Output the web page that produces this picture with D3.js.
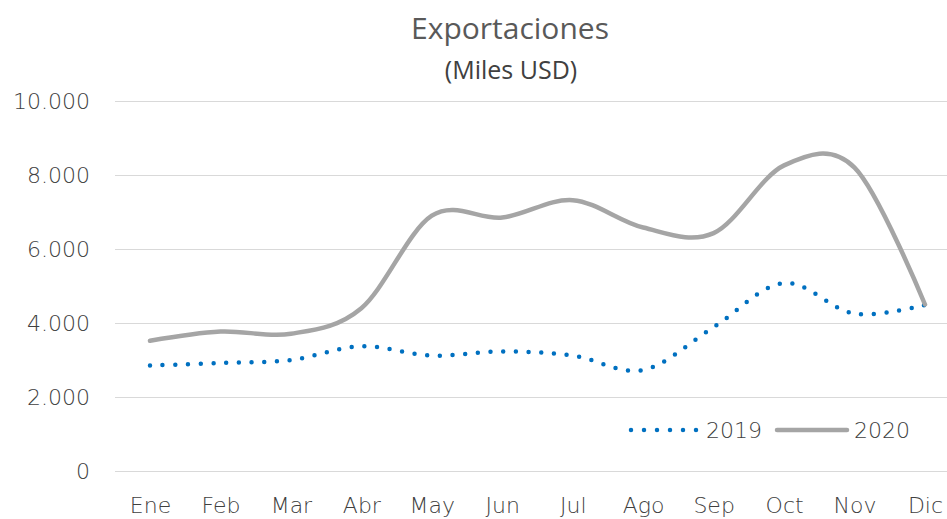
<!DOCTYPE html>
<html>
<head>
<meta charset="utf-8">
<script src="https://d3js.org/d3.v7.min.js"></script>
<style>
body { margin: 0; background: #fff; }
svg { display: block; }
.axis text { font: 200 22px "DejaVu Sans", sans-serif; fill: #404040; }
.axis path { display: none; }
.grid line { stroke: #d9d9d9; stroke-width: 1; }
.title { font: 30px "Open Sans", sans-serif; fill: #595959; }
.subtitle { font: 25px "Open Sans", sans-serif; fill: #404040; }
.legend text { font: 200 22px "DejaVu Sans", sans-serif; fill: #404040; }
</style>
</head>
<body>
<script>

// chart data
var months = ["Ene", "Feb", "Mar", "Abr", "May", "Jun", "Jul", "Ago", "Sep", "Oct", "Nov", "Dic"];
var exp2019 = [2850, 2920, 3000, 3370, 3120, 3230, 3120, 2730, 3890, 5080, 4250, 4490];
var exp2020 = [3520, 3770, 3710, 4400, 6900, 6850, 7320, 6580, 6430, 8260, 8200, 4500];
var yTicks = [0, 2000, 4000, 6000, 8000, 10000];

var width = 947, height = 519;

var svg = d3.select("body").append("svg")
    .attr("width", width)
    .attr("height", height);

var xScale = d3.scalePoint()
    .domain(months)
    .range([150, 925]);

var yScale = d3.scaleLinear()
    .domain([0, 10000])
    .range([471, 101]);

var locale = d3.formatLocale({decimal: ",", thousands: ".", grouping: [3], currency: ["", ""]});
var fmt = locale.format(",");

// gridlines
svg.append("g")
    .attr("class", "grid")
  .selectAll("line")
    .data(yTicks)
  .enter().append("line")
    .attr("x1", 115)
    .attr("x2", 960)
    .attr("y1", function(d) { return Math.round(yScale(d)) + 0.5; })
    .attr("y2", function(d) { return Math.round(yScale(d)) + 0.5; });

var yAxis = d3.axisLeft(yScale)
    .tickValues(yTicks)
    .tickSize(0)
    .tickPadding(0)
    .tickFormat(fmt);

svg.append("g")
    .attr("class", "y axis")
    .attr("transform", "translate(90,0)")
    .call(yAxis)
    .selectAll("text")
    .attr("dy", "0.36em");

var xAxis = d3.axisBottom(xScale)
    .tickSize(0)
    .tickPadding(0);

svg.append("g")
    .attr("class", "x axis")
    .attr("transform", "translate(0,496)")
    .call(xAxis)
    .selectAll("text")
    .attr("dy", "0.78em");

var line = d3.line()
    .x(function(d, i) { return xScale(months[i]); })
    .y(function(d) { return yScale(d); })
    .curve(d3.curveCatmullRom.alpha(0));

svg.append("path")
    .datum(exp2019)
    .attr("d", line)
    .attr("fill", "none")
    .attr("stroke", "#0070c0")
    .attr("stroke-width", 4.5)
    .attr("stroke-linecap", "round")
    .attr("stroke-dasharray", "0 12.7");

svg.append("path")
    .datum(exp2020)
    .attr("d", line)
    .attr("fill", "none")
    .attr("stroke", "#a5a5a5")
    .attr("stroke-width", 4.5)
    .attr("stroke-linecap", "round");

// titles
svg.append("text")
    .attr("class", "title")
    .attr("x", 510)
    .attr("y", 39)
    .attr("text-anchor", "middle")
    .text("Exportaciones");

svg.append("text")
    .attr("class", "subtitle")
    .attr("x", 511)
    .attr("y", 79)
    .attr("text-anchor", "middle")
    .text("(Miles USD)");

// legend
var legend = svg.append("g").attr("class", "legend");

legend.append("line")
    .attr("x1", 631).attr("x2", 697)
    .attr("y1", 430).attr("y2", 430)
    .attr("stroke", "#0070c0")
    .attr("stroke-width", 4.5)
    .attr("stroke-linecap", "round")
    .attr("stroke-dasharray", "0 13");

legend.append("text")
    .attr("x", 706).attr("y", 438)
    .text("2019");

legend.append("line")
    .attr("x1", 777).attr("x2", 847)
    .attr("y1", 430).attr("y2", 430)
    .attr("stroke", "#a5a5a5")
    .attr("stroke-width", 4.5)
    .attr("stroke-linecap", "round");

legend.append("text")
    .attr("x", 854).attr("y", 438)
    .text("2020");

</script>
</body>
</html>
